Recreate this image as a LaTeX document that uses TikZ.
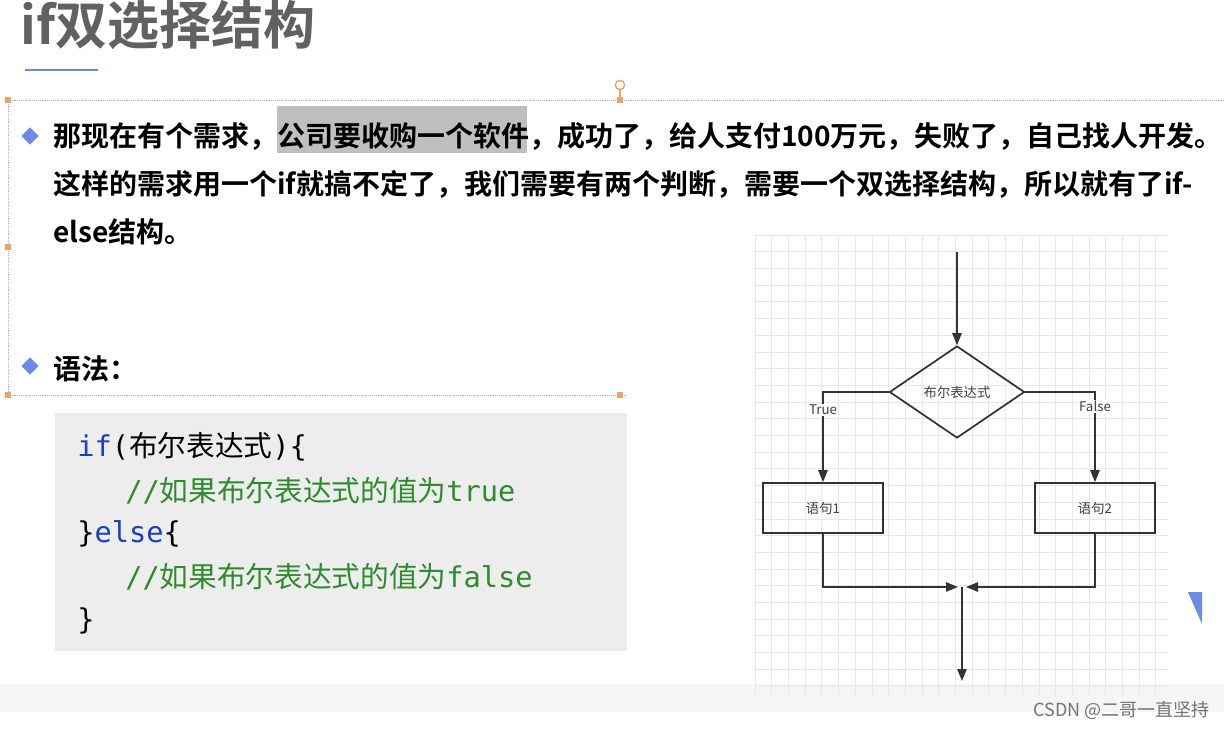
\documentclass[tikz,border=0pt]{standalone}
\usepackage{fontspec}
\setmainfont{Noto Sans CJK SC}[BoldFont={Noto Sans CJK SC Bold}]
\newfontfamily\codemono{DejaVu Sans Mono}
\usetikzlibrary{arrows.meta,shapes.geometric}
\definecolor{bluebul}{HTML}{7088E6}
\definecolor{orh}{HTML}{F0A060}
\definecolor{kwblue}{HTML}{1A3FC0}
\definecolor{cmgreen}{HTML}{2E8B2E}
\tikzset{
  body/.style={anchor=west,inner sep=0pt,font=\fontsize{21}{21}\selectfont\bfseries},
  codeline/.style={anchor=west,inner sep=0pt,font=\fontsize{21.5}{21}\selectfont},
  flowline/.style={draw=black!80,line width=1.3pt},
  arr/.style={flowline,-{Triangle[length=9pt,width=7pt]}},
  fbox/.style={draw=black!80,line width=1.3pt,minimum width=120pt*0.75,minimum height=50pt*0.75,inner sep=0pt,font=\fontsize{10}{10}\selectfont,text=black!75},
  flab/.style={inner sep=1pt,font=\fontsize{10}{10}\selectfont,text=black!75},
  handle/.style={fill=orh,minimum size=5pt,inner sep=0pt},
  bul/.style={fill=bluebul,diamond,minimum size=13pt,inner sep=0pt}
}
\begin{document}
\begin{tikzpicture}[x=0.75pt,y=-0.75pt]
\useasboundingbox (0,0) rectangle (1224,728);
\fill[white] (0,0) rectangle (1224,728);
\fill[black!4] (0,684) rectangle (1224,712);
% title
\node[anchor=west,inner sep=0pt,text=black!62,font=\fontsize{39}{39}\selectfont\bfseries] (title) at (20,25) {if双选择结构};
\draw[bluebul,line width=1.5pt] (25,70) -- (98,70);
% selection frame
\draw[black!30,densely dotted] (8,100) -- (1224,100);
\draw[black!30,densely dotted] (8,395) -- (627,395);
\draw[black!30,densely dotted] (8,100) -- (8,395);
\draw[orh,line width=0.8pt] (620,100) -- (620,90);
\draw[orh,line width=1pt] (620,85) circle (3.5pt);
\foreach \p in {(8,100),(8,247),(8,395),(620,100),(620,395)} \node[handle] at \p {};
% bullet text
\fill[black!25] (277,106) rectangle (527,153);
\node[bul] (b1) at (30,136) {};
\node[body] (l1) at (53,136) {那现在有个需求，公司要收购一个软件，成功了，给人支付100万元，失败了，自己找人开发。};
\node[body] (l2) at (53,184) {这样的需求用一个if就搞不定了，我们需要有两个判断，需要一个双选择结构，所以就有了if-};
\node[body] (l3) at (53,232) {else结构。};
\node[bul] (b2) at (30,366) {};
\node[body] (l4) at (53,369) {语法：};
% code box
\fill[black!7] (55,413) rectangle (627,651);
\node[codeline] (c1) at (77,447) {{\codemono\color{kwblue}if}{\codemono (}布尔表达式{\codemono )\{}};
\node[codeline,text=cmgreen] (c2) at (125,491) {{\codemono //}如果布尔表达式的值为{\codemono true}};
\node[codeline] (c3) at (77,534) {{\codemono \}}{\codemono\color{kwblue}else}{\codemono \{}};
\node[codeline,text=cmgreen] (c4) at (125,577) {{\codemono //}如果布尔表达式的值为{\codemono false}};
\node[codeline] (c5) at (77,621) {{\codemono \}}};
% grid
\begin{scope}
\clip (755,235) rectangle (1168,695);
\draw[black!9,line width=0.6pt,step=16.7*0.75pt,shift={(755,235)}] (0,0) grid (420,470);
\end{scope}
% flowchart
\coordinate (start) at (957,252);
\node[draw=black!80,line width=1.3pt,diamond,aspect=1.5,minimum width=135*0.75pt,minimum height=92*0.75pt,inner sep=0pt,font=\fontsize{10}{10}\selectfont,text=black!75] (d) at (957,392) {布尔表达式};
\node[fbox] (s1) at (823,508) {语句1};
\node[fbox] (s2) at (1095,508) {语句2};
\coordinate (jl) at (958,587);
\coordinate (jr) at (966,587);
\coordinate (jc) at (962,587);
\coordinate (end) at (962,681);
\draw[arr] (start) -- (d.north);
\draw[arr] (d.west) -| node[flab,pos=0.6,fill=white] {True} (s1.north);
\draw[arr] (d.east) -| node[flab,pos=0.58,fill=white] {False} (s2.north);
\draw[arr] (s1.south) |- (jl);
\draw[arr] (s2.south) |- (jr);
\draw[arr] (jc) -- (end);
\fill[bluebul] (1188,592) -- (1202,592) -- (1202,624) -- cycle;
\node[anchor=east,inner sep=0pt,text=black!55,font=\fontsize{13.5}{13.5}\selectfont] (wm) at (1210,710) {CSDN @二哥一直坚持};
\end{tikzpicture}
\end{document}
